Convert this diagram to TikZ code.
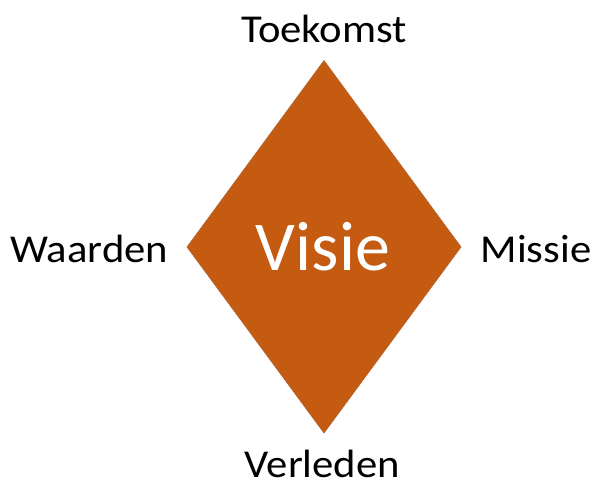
\documentclass[tikz,border=0pt]{standalone}
\usepackage{fontspec}
\setmainfont{Carlito}
\definecolor{rust}{HTML}{C55A11}
\begin{document}
\begin{tikzpicture}[x=1pt,y=1pt,
  lbl/.style={font=\fontsize{39.5}{42}\selectfont, text=black, inner sep=0pt, text depth=0pt, anchor=base, xscale=1.08}]
\useasboundingbox (0,0) rectangle (597,483);
% diamond corners
\coordinate (t) at (324,422.5);
\coordinate (r) at (461,236);
\coordinate (b) at (324,50);
\coordinate (l) at (187,236);
\fill[rust, draw=rust!70!gray, line width=0.6pt] (t) -- (r) -- (b) -- (l) -- cycle;
\node[font=\fontsize{70}{74}\selectfont, text=white, inner sep=0pt, anchor=base] (v) at (323,213) {Visie};
\node[lbl] (toek) at (324,440.3) {Toekomst};
\node[lbl] (waar) at (89.2,220.3) {Waarden};
\node[lbl] (miss) at (536,220.3) {Missie};
\node[lbl] (verl) at (322.3,5.5) {Verleden};
\end{tikzpicture}
\end{document}
